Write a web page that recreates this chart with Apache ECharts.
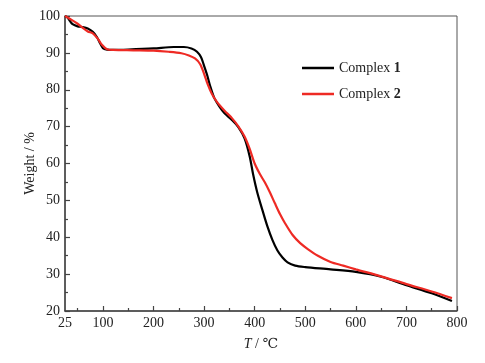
<!DOCTYPE html>
<html>
<head>
<meta charset="utf-8">
<script src="https://cdn.jsdelivr.net/npm/echarts@6/dist/echarts.min.js"></script>
<style>
  html, body { margin: 0; padding: 0; background: #fff; }
  #chart { width: 485px; height: 363px; }
</style>
</head>
<body>
<div id="chart"></div>
<script>
// TGA curves
const seriesNames = ['Complex 1', 'Complex 2'];

const temp1 = [25, 30, 35, 40, 50, 60, 70, 80, 88, 94, 100, 108, 120, 150, 200, 240, 260, 275, 286, 294, 300, 306, 312, 320, 330, 340, 355, 368, 380, 390, 397, 405, 415, 425, 435, 445, 455, 465, 480, 500, 550, 600, 650, 700, 750, 790];
const weight1 = [100, 99.6, 98.6, 97.8, 97.2, 97.0, 96.6, 95.7, 94.3, 92.7, 91.3, 90.9, 90.8, 90.9, 91.2, 91.6, 91.6, 91.2, 90.3, 88.8, 86.5, 84.0, 81.0, 77.8, 75.5, 73.7, 71.8, 69.8, 66.8, 62.0, 57.0, 52.2, 47.5, 43.0, 39.3, 36.4, 34.5, 33.2, 32.3, 31.9, 31.3, 30.6, 29.3, 27.0, 24.8, 22.7];

const temp2 = [25, 35, 50, 60, 70, 80, 90, 98, 108, 120, 160, 200, 230, 255, 270, 282, 292, 300, 307, 315, 325, 340, 355, 368, 380, 390, 400, 410, 420, 430, 440, 450, 460, 475, 490, 505, 525, 550, 575, 600, 650, 700, 750, 790];
const weight2 = [100, 99.2, 97.9, 96.8, 95.8, 95.3, 93.8, 92.2, 91.0, 90.8, 90.7, 90.6, 90.3, 89.9, 89.3, 88.5, 87.0, 84.3, 81.5, 79.0, 76.8, 74.4, 72.3, 70.0, 67.3, 64.0, 60.0, 57.2, 54.9, 52.2, 49.2, 46.3, 43.8, 40.6, 38.4, 36.8, 35.0, 33.3, 32.3, 31.3, 29.4, 27.3, 25.3, 23.5];

const xLabels = [25, 100, 200, 300, 400, 500, 600, 700, 800];
const xMajorTicks = [100, 200, 300, 400, 500, 600, 700, 800];
const xMinorTicks = [50, 150, 250, 350, 450, 550, 650, 750];

const fontFamily = '"Liberation Serif", "DejaVu Serif", serif';
const textColor = '#222';
const axisColor = '#444';

const zip = (xs, ys) => xs.map((x, i) => [x, ys[i]]);

const chart = echarts.init(document.getElementById('chart'));

chart.setOption({
  backgroundColor: '#fff',
  animation: false,
  textStyle: { fontFamily: fontFamily, color: textColor },
  grid: {
    left: 65, right: 28, top: 16, bottom: 52,
    show: true,
    borderColor: '#555',
    borderWidth: 1
  },
  legend: {
    orient: 'vertical',
    left: 302,
    top: 61,
    padding: 0,
    itemGap: 12,
    itemWidth: 32,
    itemHeight: 2.5,
    icon: 'rect',
    data: seriesNames,
    formatter: name => {
      const parts = name.split(' ');
      return parts[0] + ' {b|' + parts[1] + '}';
    },
    textStyle: {
      fontFamily: fontFamily,
      fontSize: 14,
      color: textColor,
      rich: {
        b: { fontFamily: fontFamily, fontSize: 14, fontWeight: 'bold', color: textColor }
      }
    }
  },
  xAxis: [{
    type: 'value',
    min: 25,
    max: 800,
    name: '{i|T} / ℃',
    nameLocation: 'middle',
    nameGap: 26,
    nameTextStyle: {
      fontFamily: fontFamily,
      fontSize: 14,
      color: textColor,
      rich: {
        i: { fontFamily: fontFamily, fontSize: 14, fontStyle: 'italic', color: textColor }
      }
    },
    axisLine: { show: true, onZero: false, lineStyle: { color: axisColor, width: 1.5 } },
    axisTick: { show: true, inside: true, length: 5, customValues: xMajorTicks, lineStyle: { color: axisColor, width: 1.2 } },
    axisLabel: { customValues: xLabels, fontFamily: fontFamily, fontSize: 14, color: textColor, margin: 5 },
    splitLine: { show: false }
  }, {
    type: 'value',
    min: 25,
    max: 800,
    position: 'bottom',
    axisLine: { show: false },
    axisTick: { show: true, inside: true, length: 3, customValues: xMinorTicks, lineStyle: { color: axisColor, width: 1.2 } },
    axisLabel: { show: false },
    splitLine: { show: false }
  }],
  yAxis: {
    type: 'value',
    min: 20,
    max: 100,
    interval: 10,
    name: 'Weight / %',
    nameLocation: 'middle',
    nameGap: 28,
    nameMoveOverlap: false,
    nameTextStyle: { fontFamily: fontFamily, fontSize: 14, color: textColor },
    axisLine: { show: true, onZero: false, lineStyle: { color: axisColor, width: 1.5 } },
    axisTick: { show: true, inside: true, length: 5, lineStyle: { color: axisColor, width: 1.2 } },
    minorTick: { show: true, splitNumber: 2, length: 3, lineStyle: { color: axisColor, width: 1.2 } },
    axisLabel: { fontFamily: fontFamily, fontSize: 14, color: textColor, margin: 5 },
    splitLine: { show: false }
  },
  series: [{
    name: seriesNames[0],
    type: 'line',
    data: zip(temp1, weight1),
    smooth: 0.3,
    showSymbol: false,
    lineStyle: { color: '#000', width: 2.2 },
    itemStyle: { color: '#000' }
  }, {
    name: seriesNames[1],
    type: 'line',
    data: zip(temp2, weight2),
    smooth: 0.3,
    showSymbol: false,
    lineStyle: { color: '#ee2a24', width: 2.2 },
    itemStyle: { color: '#ee2a24' }
  }]
});
</script>
</body>
</html>
